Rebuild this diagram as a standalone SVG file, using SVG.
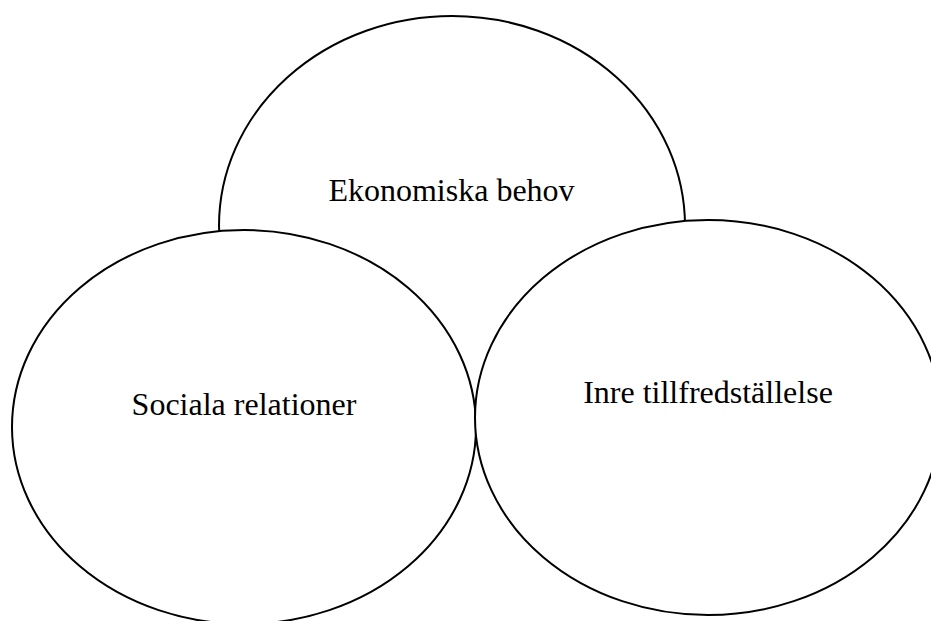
<svg xmlns="http://www.w3.org/2000/svg" width="931" height="621" viewBox="0 0 931 621">
<style>
.node ellipse { fill: #ffffff; stroke: #000000; stroke-width: 2; }
.node text { font-family: "Liberation Serif", "Times New Roman", serif; font-size: 32px; fill: #000000; text-anchor: middle; }
</style>
<rect x="0" y="0" width="931" height="621" fill="#ffffff"/>
<g id="connectors"></g>
<g id="node-ekonomiska" class="node">
<ellipse cx="452" cy="226" rx="233" ry="210"/>
<text x="451.5" y="201">Ekonomiska behov</text>
</g>
<g id="node-sociala" class="node">
<ellipse cx="244" cy="427" rx="232" ry="197"/>
<text x="244" y="415">Sociala relationer</text>
</g>
<g id="node-inre" class="node">
<ellipse cx="708" cy="417.5" rx="233" ry="197.5"/>
<text x="708" y="403">Inre tillfredställelse</text>
</g>
</svg>
